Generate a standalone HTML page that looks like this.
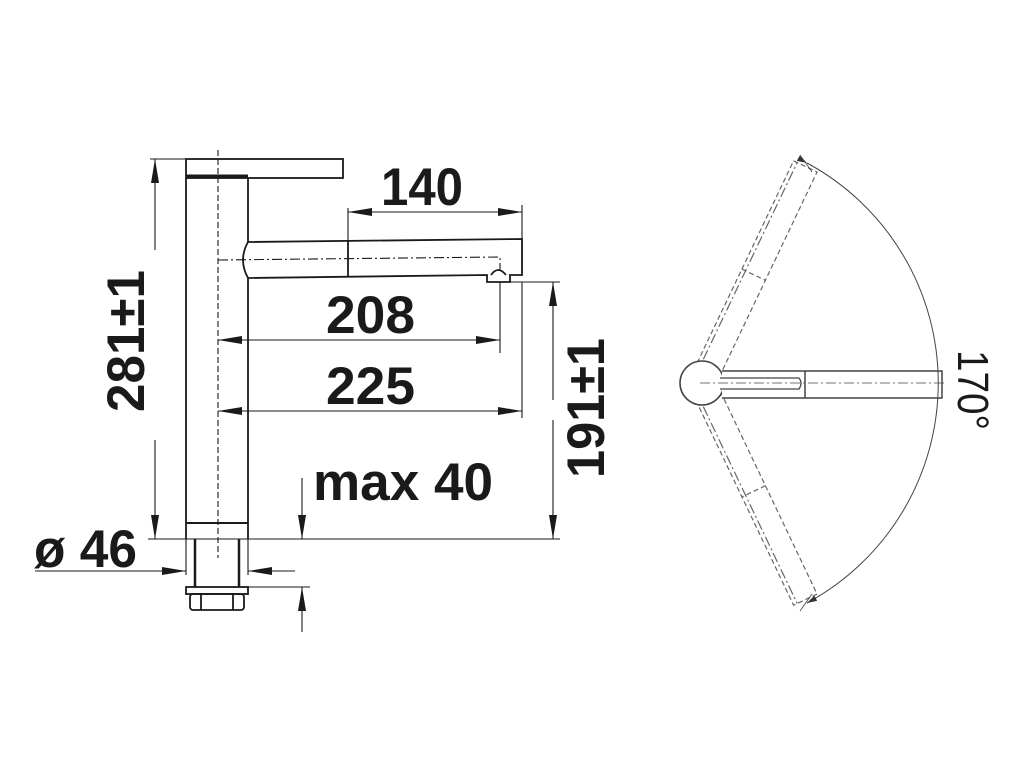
<!DOCTYPE html>
<html><head><meta charset="utf-8"><style>
html,body{margin:0;padding:0;background:#fff;}
svg{display:block;}
text{font-family:"Liberation Sans",Arial,sans-serif;fill:#1a1a1a;}
.b{font-weight:bold;font-size:53px;}
</style></head><body>
<svg width="1024" height="768" viewBox="0 0 1024 768" xmlns="http://www.w3.org/2000/svg">
<defs>
<marker id="a" viewBox="0 0 24 8" refX="24" refY="4" markerWidth="24" markerHeight="8" markerUnits="userSpaceOnUse" orient="auto"><path d="M0,0 L24,4 L0,8 Z" fill="#1a1a1a"/></marker>
<marker id="s" viewBox="0 0 10 6" refX="10" refY="3" markerWidth="10" markerHeight="6" markerUnits="userSpaceOnUse" orient="auto"><path d="M0,0 L10,3 L0,6 Z" fill="#333"/></marker>
</defs>
<g stroke="#1a1a1a" fill="none" stroke-width="1.8">
<rect x="186" y="159" width="157" height="19"/>
<line x1="186" y1="178" x2="186" y2="539"/>
<line x1="248" y1="178" x2="248" y2="242"/>
<line x1="248" y1="278" x2="248" y2="539"/>
<line x1="186" y1="176" x2="248" y2="176" stroke-width="3"/>
<line x1="186" y1="523" x2="248" y2="523" stroke-width="2"/>
<line x1="195" y1="539" x2="195" y2="587" stroke-width="2.5"/>
<line x1="239" y1="539" x2="239" y2="587" stroke-width="2.5"/>
<rect x="186" y="587" width="62" height="7"/>
<rect x="190" y="594" width="54" height="16" rx="3"/>
<line x1="201" y1="594" x2="201" y2="610"/>
<line x1="233" y1="594" x2="233" y2="610"/>
<path d="M248,242 L522,239 L522,275 L510,275 L510,282 L487,282 L487,275 L248,278"/>
<path d="M248,242 Q238,260 248,278"/>
<line x1="348" y1="241" x2="348" y2="277"/>
<path d="M491,275 Q498,265 506,275"/>
</g>
<g stroke="#1a1a1a" fill="none" stroke-width="1.1">
<line x1="218" y1="150" x2="218" y2="558" stroke-dasharray="6,3"/>
<path d="M218,260 L500,257 L500,270" stroke-dasharray="10,3,2,3"/>
<line x1="150" y1="159" x2="186" y2="159"/>
<line x1="155" y1="250" x2="155" y2="159" marker-end="url(#a)"/>
<line x1="155" y1="440" x2="155" y2="539" marker-end="url(#a)"/>
<line x1="148" y1="539" x2="560" y2="539"/>
<line x1="348" y1="208" x2="348" y2="242"/>
<line x1="522" y1="205" x2="522" y2="268"/>
<line x1="430" y1="212" x2="348" y2="212" marker-end="url(#a)"/>
<line x1="430" y1="212" x2="522" y2="212" marker-end="url(#a)"/>
<line x1="500" y1="282" x2="500" y2="353"/>
<line x1="280" y1="340" x2="218" y2="340" marker-end="url(#a)"/>
<line x1="280" y1="340" x2="500" y2="340" marker-end="url(#a)"/>
<line x1="522" y1="282" x2="522" y2="418"/>
<line x1="280" y1="411" x2="218" y2="411" marker-end="url(#a)"/>
<line x1="280" y1="411" x2="522" y2="411" marker-end="url(#a)"/>
<line x1="487" y1="282" x2="560" y2="282"/>
<line x1="553" y1="400" x2="553" y2="282" marker-end="url(#a)"/>
<line x1="553" y1="420" x2="553" y2="539" marker-end="url(#a)"/>
<line x1="248" y1="587" x2="310" y2="587"/>
<line x1="302" y1="478" x2="302" y2="539" marker-end="url(#a)"/>
<line x1="302" y1="632" x2="302" y2="587" marker-end="url(#a)"/>
<line x1="35" y1="571" x2="186" y2="571" marker-end="url(#a)"/>
<line x1="295" y1="571" x2="248" y2="571" marker-end="url(#a)"/>
<line x1="186" y1="539" x2="186" y2="575"/>
<line x1="248" y1="539" x2="248" y2="575"/>
</g>
<text class="b" x="381" y="205" textLength="82" lengthAdjust="spacingAndGlyphs">140</text>
<text class="b" x="326" y="333" textLength="89" lengthAdjust="spacingAndGlyphs">208</text>
<text class="b" x="326" y="404" textLength="89" lengthAdjust="spacingAndGlyphs">225</text>
<text class="b" x="313" y="500" textLength="180" lengthAdjust="spacingAndGlyphs">max 40</text>
<text class="b" x="34" y="567" textLength="103" lengthAdjust="spacingAndGlyphs">ø 46</text>
<text class="b" transform="translate(144,412) rotate(-90)" x="0" y="0" textLength="142" lengthAdjust="spacingAndGlyphs">281±1</text>
<text class="b" transform="translate(604,478) rotate(-90)" x="0" y="0" textLength="140" lengthAdjust="spacingAndGlyphs">191±1</text>

<g stroke="#444" fill="none" stroke-width="1.2">
<g stroke-dasharray="5,3" stroke="#666">
<g transform="translate(702,383) rotate(-64.5)">
<rect x="0" y="-13" width="240" height="26"/>
<line x1="120" y1="-13" x2="120" y2="13"/>
<line x1="22" y1="-9" x2="240" y2="-9" stroke-dasharray="10,3,2,3"/>
</g>
<g transform="translate(702,383) rotate(64.5)">
<rect x="0" y="-13" width="240" height="26"/>
<line x1="120" y1="-13" x2="120" y2="13"/>
<line x1="22" y1="9" x2="240" y2="9" stroke-dasharray="10,3,2,3"/>
</g>
</g>
<circle cx="702" cy="383" r="22" fill="#fff" stroke-width="1.6"/>
<path d="M722,371 L942,371 L942,398 L722,398" fill="#fff" stroke-width="1.5"/>
<line x1="805" y1="371" x2="805" y2="398" stroke-width="1.5"/>
<path d="M720,378 L799,378 Q803,383 799,389 L720,389" stroke-width="1.3"/>
<line x1="700" y1="383" x2="945" y2="383" stroke-dasharray="10,3,2,3" stroke-width="0.8"/>
<path d="M807,163 A250,250 0 0 1 807,603" stroke-width="1" marker-start="url(#s)" marker-end="url(#s)"/>
<line x1="800" y1="155" x2="812" y2="172" stroke-width="0.8"/>
<line x1="800" y1="611" x2="812" y2="594" stroke-width="0.8"/>
</g>
<text transform="translate(958,350) rotate(90)" x="0" y="0" font-size="44" textLength="80" lengthAdjust="spacingAndGlyphs">170°</text>
</svg>
</body></html>
